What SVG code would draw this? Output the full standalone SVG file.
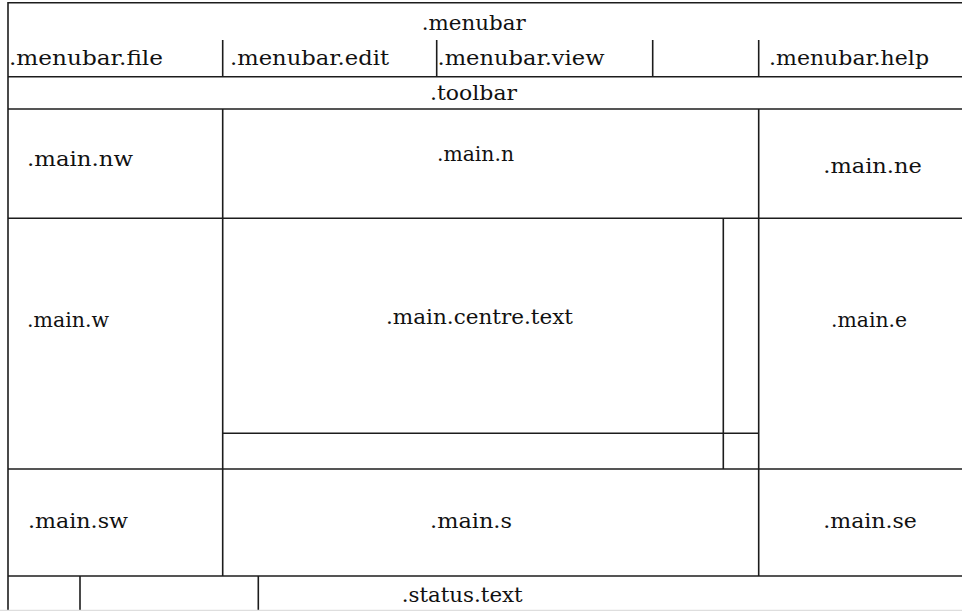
<svg xmlns="http://www.w3.org/2000/svg" width="962" height="611" viewBox="0 0 962 611">
  <style>
    .grid line { stroke: #1c1c1c; stroke-width: 1.6; }
    .edge { stroke: #dedede; stroke-width: 1.2; }
    text { font-family: "DejaVu Serif", "Liberation Serif", serif; font-size: 20px; fill: #111; }
    .c { text-anchor: middle; }
  </style>
  <rect x="0" y="0" width="962" height="611" fill="#ffffff"/>

  <!-- widget frame lines -->
  <g id="connectors" class="grid">
    <!-- outer frame -->
    <line x1="8" y1="2.7" x2="962" y2="2.7"/>
    <line x1="8" y1="2" x2="8" y2="611"/>
    <!-- row separators -->
    <line x1="8" y1="76.7" x2="962" y2="76.7"/>
    <line x1="8" y1="109" x2="962" y2="109"/>
    <line x1="8" y1="218.3" x2="962" y2="218.3"/>
    <line x1="222.7" y1="433.3" x2="758.7" y2="433.3"/>
    <line x1="8" y1="469" x2="962" y2="469"/>
    <line x1="8" y1="576" x2="962" y2="576"/>
    <!-- menubar buttons -->
    <line x1="222.7" y1="40" x2="222.7" y2="76.7"/>
    <line x1="436.7" y1="40" x2="436.7" y2="76.7"/>
    <line x1="652.7" y1="40" x2="652.7" y2="76.7"/>
    <line x1="758.7" y1="40" x2="758.7" y2="76.7"/>
    <!-- main columns -->
    <line x1="222.7" y1="109" x2="222.7" y2="576"/>
    <line x1="758.7" y1="109" x2="758.7" y2="576"/>
    <line x1="723.3" y1="218.3" x2="723.3" y2="469"/>
    <!-- status bar -->
    <line x1="80" y1="576" x2="80" y2="611"/>
    <line x1="258.3" y1="576" x2="258.3" y2="611"/>
  </g>
  <line class="edge" x1="0" y1="610.4" x2="962" y2="610.4"/>

  <g id="menubar"><text x="421.7" y="30" textLength="104" lengthAdjust="spacingAndGlyphs">.menubar</text></g>
  <g id="menubar-file"><text x="9" y="65" textLength="154" lengthAdjust="spacingAndGlyphs">.menubar.file</text></g>
  <g id="menubar-edit"><text x="230" y="65" textLength="159" lengthAdjust="spacingAndGlyphs">.menubar.edit</text></g>
  <g id="menubar-view"><text x="437.5" y="65" textLength="167" lengthAdjust="spacingAndGlyphs">.menubar.view</text></g>
  <g id="menubar-help"><text x="769" y="65" textLength="160" lengthAdjust="spacingAndGlyphs">.menubar.help</text></g>
  <g id="toolbar"><text x="430" y="100" textLength="87" lengthAdjust="spacingAndGlyphs">.toolbar</text></g>

  <g id="main-nw"><text x="27" y="166" textLength="106" lengthAdjust="spacingAndGlyphs">.main.nw</text></g>
  <g id="main-n"><text x="437" y="161" textLength="77" lengthAdjust="spacingAndGlyphs">.main.n</text></g>
  <g id="main-ne"><text x="823.3" y="172.7" textLength="98.5" lengthAdjust="spacingAndGlyphs">.main.ne</text></g>

  <g id="main-w"><text x="27" y="327" textLength="82" lengthAdjust="spacingAndGlyphs">.main.w</text></g>
  <g id="main-centre-text"><text x="386" y="324.3" textLength="187" lengthAdjust="spacingAndGlyphs">.main.centre.text</text></g>
  <g id="main-e"><text x="831" y="327" textLength="76" lengthAdjust="spacingAndGlyphs">.main.e</text></g>

  <g id="main-sw"><text x="28" y="528" textLength="100" lengthAdjust="spacingAndGlyphs">.main.sw</text></g>
  <g id="main-s"><text x="430" y="528" textLength="82" lengthAdjust="spacingAndGlyphs">.main.s</text></g>
  <g id="main-se"><text x="823.3" y="528" textLength="93.5" lengthAdjust="spacingAndGlyphs">.main.se</text></g>

  <g id="status-text"><text x="401.7" y="601.7" textLength="121" lengthAdjust="spacingAndGlyphs">.status.text</text></g>
</svg>
